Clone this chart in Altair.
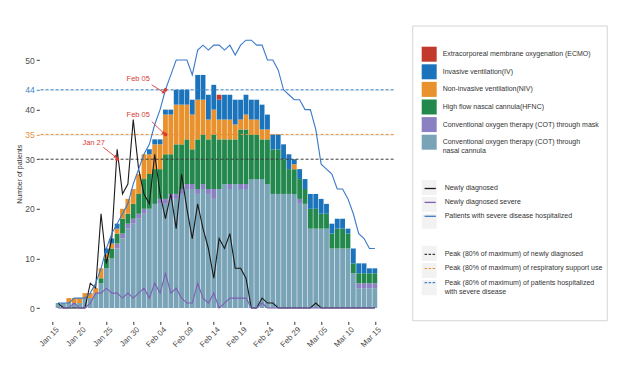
import altair as alt
import pandas as pd

# ---------------- data ----------------
dates = pd.date_range("2020-01-16", periods=60, freq="D")

categories = [
    "Extracorporeal membrane oxygenation (ECMO)",
    "Invasive ventilation(IV)",
    "Non-invasive ventilation(NIV)",
    "High flow nascal cannula(HFNC)",
    "Conventional oxygen therapy (COT) through mask",
    "Conventional oxygen therapy (COT) through nasal cannula",
]
category_colors = ["#C23A2B", "#1B74BB", "#E8912D", "#23884B", "#8A80C2", "#79A3B6"]

#            Jan16 ... Jan31 | Feb01 ... Feb29 | Mar01 ... Mar15
ecmo      = [0,0,0,0,0,0,0,0,0,0,0,0,0,0,0,0,  0,0,0,0,0,0,0,0,0,0,0,0,0,0,1,0,0,0,0,0,0,0,0,0,0,0,0,0,0,  0,0,0,0,0,0,0,0,0,0,0,0,0,0,0]
iv        = [0,0,0,0,0,0,0,0,0,1,1,1,0,0,0,0,  0,1,1,1,1,1,3,3,3,3,5,5,5,5,4,5,5,5,4,4,4,4,5,3,3,3,3,3,1,  2,2,3,3,3,2,2,2,2,1,3,2,2,1,1]
niv       = [0,0,1,1,1,1,1,1,2,1,1,1,2,3,3,4,  5,4,5,5,8,8,8,8,7,7,8,7,4,5,4,4,4,3,2,3,3,3,2,2,0,0,0,0,1,  0,0,0,0,0,0,0,0,0,0,0,0,0,0,0]
hfnc      = [0,0,0,0,0,0,0,0,1,2,2,2,3,2,3,4,  6,7,7,6,9,8,10,9,9,7,10,10,10,11,10,9,9,9,11,11,9,9,8,9,9,9,7,5,5,  4,3,4,4,3,3,3,4,4,3,2,2,2,2,2]
cot_mask  = [0,0,0,0,0,0,0,0,0,0,0,1,1,1,1,1,  1,0,0,1,1,1,1,1,1,1,1,1,1,2,0,0,1,0,1,1,0,0,0,0,0,0,0,0,0,  1,0,0,0,0,0,0,0,0,0,0,1,1,1,1]
cot_nasal = [1,1,1,1,1,2,2,3,5,8,10,12,14,16,17,18,  19,20,21,21,21,22,22,23,24,24,23,24,23,22,24,25,24,25,24,24,26,26,26,25,23,23,23,23,23,  21,21,16,16,16,16,12,12,12,12,7,4,4,4,4]

series_names = ["Newly diagnosed", "Newly diagnosed severe", "Patients with severe disease hospitalized"]
series_colors = ["#1A1A1A", "#7E5FB5", "#3A79C8"]
newly_diagnosed = [1,0,0,0,0,0,5,4,19,9,14,32,23,25,38,28,  23,21,31,23,18,23,16,27,20,14,21,16,12,6,14,12,15,8,8,6,0,0,2,1,1,0,0,0,0,  0,0,0,1,0,0,0,0,0,0,0,0,0,0,0]
newly_severe    = [0,0,0,1,0,0,1,3,3,4,3,3,2,3,2,3,  4,2,5,3,7,3,4,2,1,1,5,2,1,3,0,1,2,2,2,2,0,0,1,0,0,0,0,0,0,  0,0,0,0,0,0,0,0,0,0,0,0,0,0,0]
hospitalized    = [1,1,1,2,2,2,3,5,8,12,15,17,19,21,25,28,  31,33,37,40,44,47,50,50,50,47,52,53,52,53,53,52,53,51,53,54,54,53,53,50,50,48,44,43,42,  42,40,40,36,29,28,27,24,24,22,19,15,14,12,12]

peak_names = [
    "Peak (80% of maximum) of newly diagnosed",
    "Peak (80% of maximum) of respiratory support use",
    "Peak (80% of maximum) of patients hospitalized with severe disease",
]
peak_values = [30, 35, 44]
peak_colors = ["#3A3A3A", "#E69138", "#3D85C6"]

ann_labels = ["Jan 27", "Feb 05", "Feb 05"]
ann_point_dates = ["2020-01-27", "2020-02-05", "2020-02-05"]
ann_point_values = [30, 35, 44]
ann_text_dates = ["2020-01-22 15:00", "2020-01-30 22:30", "2020-01-30 22:30"]
ann_text_values = [33.3, 38.9, 46.1]
arrow_start_dates = ["2020-01-24 10:00", "2020-02-02 10:30", "2020-02-02 10:30"]
arrow_start_values = [32.4, 37.6, 45.0]
arrow_end_dates = ["2020-01-26 16:00", "2020-02-04 15:00", "2020-02-04 15:00"]
arrow_end_values = [30.5, 35.3, 43.5]
arrow_angles = [128, 134, 122]

tick_dates = ["2020-01-15", "2020-01-20", "2020-01-25", "2020-01-30", "2020-02-04", "2020-02-09",
              "2020-02-14", "2020-02-19", "2020-02-24", "2020-02-29", "2020-03-05", "2020-03-10", "2020-03-15"]
y_ticks = [0, 10, 20, 30, 35, 40, 44, 50]

# ---------------- tables ----------------
stack_bottom_up = [cot_nasal, cot_mask, hfnc, niv, iv, ecmo]
cats_bottom_up = categories[::-1]
rows = []
for di, d in enumerate(dates):
    base = 0
    for cat, vals in zip(cats_bottom_up, stack_bottom_up):
        v = vals[di]
        rows.append({"x0": d - pd.Timedelta(hours=10.8), "x1": d + pd.Timedelta(hours=10.8),
                     "category": cat, "y0": base, "y1": base + v})
        base += v
bar_df = pd.DataFrame(rows)

lrows = []
for name, vals in zip(series_names, [newly_diagnosed, newly_severe, hospitalized]):
    for d, v in zip(dates, vals):
        lrows.append({"date": d, "series": name, "value": v})
line_df = pd.DataFrame(lrows)

peak_df = pd.DataFrame({"peak": peak_names, "value": peak_values})
bgA_df = pd.DataFrame({"bgA": ["a1", "a2", "a3"]})
bgB_df = pd.DataFrame({"bgB": ["b1", "b2", "b3"]})
pt_df = pd.DataFrame({"date": pd.to_datetime(ann_point_dates), "value": ann_point_values})
txt_df = pd.DataFrame({"date": pd.to_datetime(ann_text_dates), "value": ann_text_values, "label": ann_labels})
arr_df = pd.DataFrame({"xs": pd.to_datetime(arrow_start_dates), "ys": arrow_start_values,
                       "xe": pd.to_datetime(arrow_end_dates), "ye": arrow_end_values, "angle": arrow_angles})

def dt(s):
    t = pd.Timestamp(s)
    return alt.DateTime(year=t.year, month=t.month, date=t.day, hours=t.hour)

xscale = alt.Scale(domain=[dt("2020-01-12 12:00"), dt("2020-03-18 12:00")], nice=False)
yscale = alt.Scale(domain=[-2.7, 56.7], nice=False, zero=False)

FONT = "Liberation Sans"
RED = "#D93B35"
GREY_TXT = "#4D4D4D"

xaxis = alt.Axis(values=[dt(s) for s in tick_dates], format="%b %d", labelAngle=315,
                 labelAlign="right", labelBaseline="top", labelFontSize=8, labelColor=GREY_TXT,
                 tickColor="#333333", tickSize=3, domain=False, gridColor="white", gridWidth=1,
                 labelPadding=1, labelOffset=2, labelFlush=False, labelOverlap=False, labelFont=FONT, title=None)
yaxis = alt.Axis(values=y_ticks, labelFontSize=8.5, labelFont=FONT,
                 labelColor={"condition": [{"test": "datum.value == 44", "value": "#3D85C6"},
                                           {"test": "datum.value == 35", "value": "#E69138"}],
                             "value": GREY_TXT},
                 tickColor={"condition": [{"test": "datum.value == 44", "value": "#3D85C6"},
                                          {"test": "datum.value == 35", "value": "#E69138"}],
                            "value": "#333333"},
                 gridColor={"condition": {"test": "datum.value == 44 || datum.value == 35", "value": "#EBEBEB"},
                            "value": "white"},
                 tickSize=3, domain=False, labelPadding=2, labelOverlap=False,
                 title="Number of patients", titleFontSize=7, titleFontWeight="normal", titleColor="#333333",
                 titleFont=FONT, titleX=-20.3, titleY=147, titleAlign="center", titleBaseline="middle", titleAngle=270)

LX = 382.4
common_leg = dict(title=None, orient="none", labelFontSize=7, labelFont=FONT, labelColor="#333333",
                  labelOffset=6, labelLimit=300, padding=0, legendX=LX)

fill_legend = alt.Legend(legendY=19.9, symbolType="square", symbolSize=225, symbolStrokeWidth=0,
                         rowPadding=2.6, symbolOpacity=1,
                         labelExpr="datum.label == 'Conventional oxygen therapy (COT) through nasal cannula' ? "
                                   "['Conventional oxygen therapy (COT) through', 'nasal cannula'] : datum.label",
                         **common_leg)
bgA_legend = alt.Legend(legendY=153.2, symbolType="square", symbolSize=225, symbolStrokeWidth=0,
                        symbolOpacity=1, rowPadding=1.9, labelOpacity=0, labelExpr="'x'", **common_leg)
series_legend = alt.Legend(legendY=153.2, symbolType="M-0.75,0H0.75", symbolSize=225, symbolStrokeWidth=1.3,
                           rowPadding=1.9, **common_leg)
bgB_legend = alt.Legend(legendY=219.0, symbolType="square", symbolSize=225, symbolStrokeWidth=0,
                        symbolOpacity=1, rowPadding=2.2, labelOpacity=0,
                        labelExpr="datum.label == 'b3' ? ['x', 'x'] : 'x'", **common_leg)
peak_legend = alt.Legend(legendY=219.0, symbolType="M-0.75,0H0.75", symbolSize=225, symbolStrokeWidth=1.2,
                         symbolDash=[2.5, 1.5], rowPadding=2.2,
                         labelExpr="datum.label == 'Peak (80% of maximum) of patients hospitalized with severe disease' ? "
                                   "['Peak (80% of maximum) of patients hospitalized', 'with severe disease'] : datum.label",
                         **common_leg)

def X(field):
    return alt.X(field, scale=xscale, axis=xaxis, title=None)

def Y(field):
    return alt.Y(field, scale=yscale, axis=yaxis, title="Number of patients")

# ---------------- layers ----------------
frame = alt.Chart(pd.DataFrame({"k": [0]})).mark_rect(fill="white", stroke="#D5D5D5", strokeWidth=1).encode(
    x=alt.value(373.4), x2=alt.value(568.0), y=alt.value(-0.8), y2=alt.value(293.9))

bars = alt.Chart(bar_df).mark_rect(strokeWidth=0).encode(
    x=X("x0:T"), x2="x1:T",
    y=Y("y0:Q"), y2="y1:Q",
    fill=alt.Fill("category:N", scale=alt.Scale(domain=categories, range=category_colors), legend=fill_legend),
)

bgA = alt.Chart(bgA_df).mark_square(opacity=0).encode(
    color=alt.Color("bgA:N", scale=alt.Scale(domain=["a1", "a2", "a3"], range=["#F2F2F2"] * 3), legend=bgA_legend))
bgB = alt.Chart(bgB_df).mark_square(opacity=0).encode(
    color=alt.Color("bgB:N", scale=alt.Scale(domain=["b1", "b2", "b3"], range=["#F2F2F2"] * 3), legend=bgB_legend))

rules = alt.Chart(peak_df).mark_rule(strokeDash=[3, 2], strokeWidth=1).encode(
    y=Y("value:Q"),
    stroke=alt.Stroke("peak:N", scale=alt.Scale(domain=peak_names, range=peak_colors), legend=peak_legend),
)

lines = alt.Chart(line_df).mark_line(strokeWidth=1.1).encode(
    x=X("date:T"), y=Y("value:Q"),
    stroke=alt.Stroke("series:N", scale=alt.Scale(domain=series_names, range=series_colors), legend=series_legend),
)

arrows = alt.Chart(arr_df).mark_rule(color=RED, strokeWidth=0.9).encode(
    x=X("xs:T"), x2="xe:T", y=Y("ys:Q"), y2="ye:Q")
heads = alt.Chart(arr_df).mark_point(shape="triangle", filled=True, size=14, color=RED, opacity=1).encode(
    x=X("xe:T"), y=Y("ye:Q"), angle=alt.Angle("angle:Q", scale=None))
dots = alt.Chart(pt_df).mark_point(filled=True, size=14, color=RED, opacity=1).encode(
    x=X("date:T"), y=Y("value:Q"))
texts = alt.Chart(txt_df).mark_text(color=RED, fontSize=7.5, font=FONT, align="center", baseline="middle").encode(
    x=X("date:T"), y=Y("value:Q"), text="label:N")

chart = alt.layer(frame, bars, bgA, bgB, rules, lines, arrows, heads, dots, texts).resolve_scale(
    color="independent", stroke="independent"
).properties(
    width=354.3, height=294.6,
    padding={"left": 31.3, "top": 18.8, "right": 230, "bottom": 34},
    autosize=alt.AutoSizeParams(type="none"),
).configure_view(fill="#EBEBEB", stroke="transparent").configure_axisX(labelOverlap=False)

chart.save("out.html", embed_options={"renderer": "svg", "actions": False})
